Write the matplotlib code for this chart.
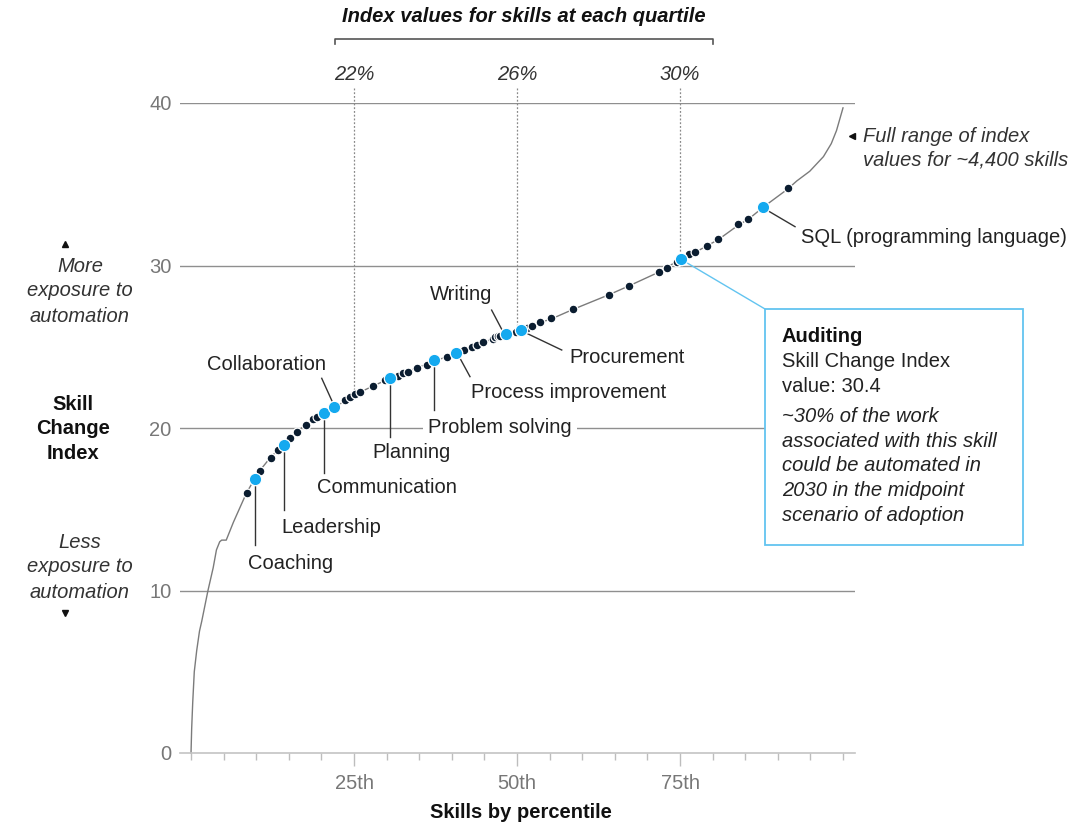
import matplotlib
matplotlib.use("Agg")
import matplotlib.pyplot as plt
import numpy as np
from matplotlib.patches import Rectangle
from matplotlib.lines import Line2D

plt.rcParams['font.family'] = ['Liberation Sans', 'DejaVu Sans']

# ---------------- data ----------------
curve_pct = [0.0, 0.1, 0.26, 0.5, 0.87, 1.3, 1.64, 2.6, 3.4, 3.9, 4.4, 4.7, 5.4, 6.5, 7.5, 8.5,
             9.8, 10.6, 12.2, 14.3, 16.3, 17.6, 19.3, 20.4, 22.0, 23.9, 25.9, 28.0, 30.5, 34.6,
             37.3, 40.6, 43.3, 46.6, 48.3, 50.6, 53.6, 55.2, 58.6, 64.1, 67.2, 71.8, 73.0, 75.2,
             77.5, 79.1, 80.9, 84.0, 85.5, 87.8, 91.5, 92.9, 94.9, 97.0, 98.2, 99.0, 100.0]
curve_val = [0.0, 1.5, 3.1, 5.0, 6.3, 7.5, 8.1, 10.0, 11.4, 12.5, 13.0, 13.1, 13.1, 14.2, 15.1, 16.0,
             16.9, 17.4, 18.2, 19.0, 19.8, 20.2, 20.7, 20.9, 21.3, 21.7, 22.2, 22.6, 23.05, 23.7,
             24.1, 24.6, 25.0, 25.55, 25.75, 26.0, 26.5, 26.7, 27.3, 28.2, 28.75, 29.6, 29.9, 30.4,
             30.85, 31.2, 31.6, 32.5, 32.85, 33.6, 34.7, 35.2, 35.8, 36.7, 37.5, 38.3, 39.7]

dark_pct = [8.54, 10.58, 12.22, 13.4, 15.18, 16.3, 17.59, 18.76, 19.28, 23.6, 24.4, 25.15, 25.9,
            27.96, 29.75, 31.8, 32.56, 33.33, 34.7, 36.15, 39.2, 41.87, 43.05, 43.8, 44.8, 46.37,
            46.6, 47.1, 47.4, 49.9, 51.5, 52.25, 53.6, 55.2, 58.6, 64.1, 67.2, 71.8, 72.96, 74.6,
            76.4, 77.3, 79.1, 80.9, 83.9, 85.5, 91.5]
dark_val = [15.98, 17.35, 18.13, 18.65, 19.37, 19.73, 20.18, 20.53, 20.7, 21.72, 21.93, 22.07, 22.23,
            22.6, 22.95, 23.22, 23.36, 23.47, 23.67, 23.88, 24.39, 24.8, 24.96, 25.1, 25.27, 25.5,
            25.58, 25.66, 25.68, 25.88, 26.15, 26.28, 26.54, 26.75, 27.3, 28.18, 28.76, 29.58, 29.87, 30.24,
            30.71, 30.85, 31.22, 31.63, 32.53, 32.86, 34.75]

skill_names = ["Coaching", "Leadership", "Communication", "Collaboration", "Planning",
               "Problem solving", "Process improvement", "Writing", "Procurement",
               "Auditing", "SQL (programming language)"]
skill_pct = [9.82, 14.26, 20.4, 21.98, 30.52, 37.27, 40.64, 48.3, 50.57, 75.15, 87.78]
skill_val = [16.86, 18.95, 20.94, 21.31, 23.1, 24.18, 24.6, 25.76, 26.03, 30.38, 33.62]

quartile_pct = [25, 50, 75]
quartile_labels = ["22%", "26%", "30%"]
x_major = [25, 50, 75]
x_major_labels = ["25th", "50th", "75th"]
y_ticks = [0, 10, 20, 30, 40]

# ---------------- style ----------------
W, H = 1082, 826
NAVY = "#0b1d30"
BLUE = "#14a9ef"
BOXBLUE = "#62c4f0"
TXT = "#222222"
GREY = "#777777"
FS = 14.5

fig = plt.figure(figsize=(W / 100, H / 100), dpi=100)
ax = fig.add_axes([180 / W, 1 - 753 / H, 675 / W, 650 / H])
ax.set_xlim(-1.69, 101.84)
ax.set_ylim(0, 40)
for s in ["top", "right", "left"]:
    ax.spines[s].set_visible(False)
ax.spines["bottom"].set_color("#c4c4c4")
ax.spines["bottom"].set_linewidth(1.2)

for yv in y_ticks[1:]:
    ax.axhline(yv, color="#8f8f8f", lw=1.0, zorder=0.5)

ax.set_yticks(y_ticks)
ax.tick_params(axis="y", length=0, pad=6, labelcolor=GREY, labelsize=FS)
ax.set_xticks(x_major)
ax.set_xticklabels(x_major_labels)
ax.set_xticks([t for t in range(0, 101, 5) if t not in x_major], minor=True)
ax.tick_params(axis="x", which="major", length=9, width=1, color="#bdbdbd", pad=6,
               labelcolor=GREY, labelsize=FS)
ax.tick_params(axis="x", which="minor", length=5, width=1, color="#bdbdbd")

# curve
ax.plot(curve_pct, curve_val, color="#7b7b7b", lw=1.0, zorder=2, clip_on=False)

# quartile dashed lines
for q in quartile_pct:
    yend = np.interp(q, curve_pct, curve_val)
    ax.plot([q, q], [40.9, yend], color="#8a8a8a", lw=0.9, ls=(0, (1.5, 1.5)),
            zorder=1, clip_on=False)

ax.scatter(dark_pct, dark_val, s=40, color=NAVY, edgecolors="white", linewidths=0.9,
           zorder=4, clip_on=False)
ax.scatter(skill_pct, skill_val, s=80, color=BLUE, edgecolors="white", linewidths=0.9,
           zorder=5, clip_on=False)


def off(p, v, dx, dy):
    x, y = ax.transData.transform((p, v))
    return ax.transData.inverted().transform((x + dx, -dy + y))


# label layout: text offset (dx, dy downward px), ha, line start, line end (px, downward)
layout = {
    "Coaching": (-7, 84, "left", (0, 6), (0, 66)),
    "Leadership": (-3, 82, "left", (0, 6), (0, 65)),
    "Communication": (-7, 75, "left", (0, 6), (0, 60)),
    "Collaboration": (-8, -42, "right", (-2, -5), (-12.6, -28.4)),
    "Planning": (-18, 75, "left", (0, 6), (0, 59)),
    "Problem solving": (-6, 67, "left", (0, 6), (0, 50)),
    "Process improvement": (15, 39, "left", (4, 5), (14, 23.4)),
    "Writing": (-45, -40, "center", (-4.3, -5.3), (-14.3, -24.3)),
    "Procurement": (49, 27, "left", (6, 3.3), (41, 20)),
    "SQL (programming language)": (38, 31, "left", (5, 4.3), (31.7, 20)),
}
for name, p, v in zip(skill_names, skill_pct, skill_val):
    if name not in layout:
        continue
    tdx, tdy, ha, ls_, le_ = layout[name]
    a = off(p, v, ls_[0], ls_[1])
    b = off(p, v, le_[0], le_[1])
    ax.plot([a[0], b[0]], [a[1], b[1]], color="#333333", lw=1.0, zorder=3, clip_on=False)
    t = off(p, v, tdx, tdy)
    kw = {}
    if name == "Problem solving":
        kw["bbox"] = dict(boxstyle="square,pad=0.25", fc="white", ec="none")
    ax.text(t[0], t[1], name, ha=ha, va="center", fontsize=FS, color=TXT, zorder=6,
            clip_on=False, **kw)


def fx(px):
    return px / W


def fy(py):
    return 1 - py / H


# Auditing callout
ia = skill_names.index("Auditing")
box = Rectangle((fx(765), fy(545)), (1023 - 765) / W, (545 - 309) / H, transform=fig.transFigure,
                fc="white", ec=BOXBLUE, lw=1.3, zorder=5)
fig.add_artist(box)
ax.annotate("", xy=(skill_pct[ia], skill_val[ia]), xycoords="data",
            xytext=(fx(765), fy(309)), textcoords="figure fraction",
            arrowprops=dict(arrowstyle="-", color=BOXBLUE, lw=1.0, shrinkA=0, shrinkB=0),
            zorder=3)
fig.text(fx(782), fy(341.7), "Auditing", fontsize=FS, fontweight="bold", color="#111111",
         va="baseline", ha="left", zorder=6)
fig.text(fx(782), fy(366.7), "Skill Change Index", fontsize=FS, color=TXT, va="baseline",
         ha="left", zorder=6)
fig.text(fx(782), fy(391.7), "value: 30.4", fontsize=FS,
         color=TXT, va="baseline", ha="left", zorder=6)
ital = ["~30% of the work", "associated with this skill", "could be automated in",
        "2030 in the midpoint", "scenario of adoption"]
for i, line in enumerate(ital):
    fig.text(fx(782), fy(421.7 + 24.8 * i), line, fontsize=FS, style="italic", color=TXT,
             va="baseline", ha="left", zorder=6)

# header
fig.text(fx(524), fy(16), "Index values for skills at each quartile", fontsize=FS,
         fontweight="bold", style="italic", color="#111111", ha="center", va="center")
fig.add_artist(Line2D([fx(335), fx(335), fx(713), fx(713)], [fy(44), fy(39), fy(39), fy(44)],
                      transform=fig.transFigure, color="#555555", lw=1.2))
for q, lab in zip(quartile_pct, quartile_labels):
    xq = ax.transData.transform((q, 0))[0]
    fig.text(xq / W, fy(75), lab, fontsize=FS, style="italic", color="#333333",
             ha="center", va="center")


def lines_at(x, ys, texts, **kw):
    for yy, tt in zip(ys, texts):
        fig.text(fx(x), fy(yy), tt, ha="center", va="center", fontsize=FS, **kw)


lines_at(80, [266, 291, 316], ["More", "exposure to", "automation"], style="italic", color="#333333")
lines_at(73, [404, 429, 454], ["Skill", "Change", "Index"], fontweight="bold", color="#111111")
lines_at(80, [542, 567, 592], ["Less", "exposure to", "automation"], style="italic", color="#333333")
fig.add_artist(Line2D([fx(65)], [fy(244)], marker="^", ms=4, color="#111111", ls="none",
                      transform=fig.transFigure))
fig.add_artist(Line2D([fx(65)], [fy(613)], marker="v", ms=4, color="#111111", ls="none",
                      transform=fig.transFigure))

# full range note
fig.add_artist(Line2D([fx(852)], [fy(136)], marker="<", ms=4, color="#111111", ls="none",
                      transform=fig.transFigure))
fig.text(fx(863), fy(137), "Full range of index", fontsize=FS, style="italic", color="#333333",
         ha="left", va="center")
fig.text(fx(863), fy(160), "values for ~4,400 skills", fontsize=FS, style="italic", color="#333333",
         ha="left", va="center")

# x axis title
fig.text(fx(521), fy(812), "Skills by percentile", fontsize=FS, fontweight="bold", color="#111111",
         ha="center", va="center")

fig.savefig("out.png", dpi=100)
